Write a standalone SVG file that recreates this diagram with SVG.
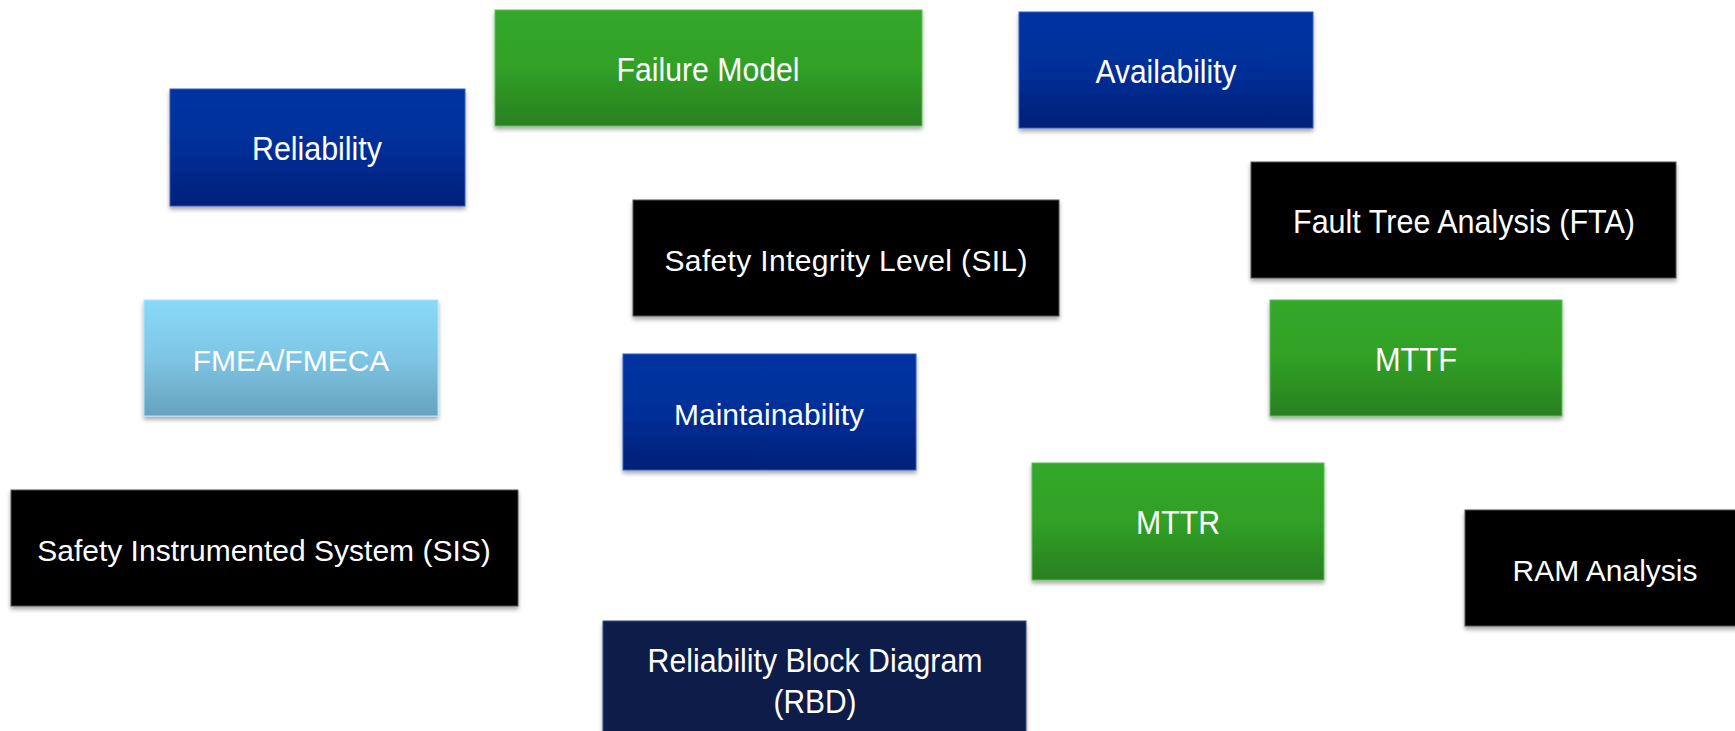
<svg xmlns="http://www.w3.org/2000/svg" width="1735" height="731" viewBox="0 0 1735 731">
  <defs>
    <linearGradient id="gGreen" x1="0" y1="0" x2="0" y2="1">
      <stop offset="0" stop-color="#34a82a"/>
      <stop offset="0.5" stop-color="#30a026"/>
      <stop offset="1" stop-color="#2a7f20"/>
    </linearGradient>
    <linearGradient id="gBlue" x1="0" y1="0" x2="0" y2="1">
      <stop offset="0" stop-color="#0033a3"/>
      <stop offset="0.5" stop-color="#002f98"/>
      <stop offset="1" stop-color="#001f78"/>
    </linearGradient>
    <linearGradient id="gLight" x1="0" y1="0" x2="0" y2="1">
      <stop offset="0" stop-color="#8ad9f8"/>
      <stop offset="0.5" stop-color="#7ec5e4"/>
      <stop offset="1" stop-color="#66a2be"/>
    </linearGradient>
    <filter id="shadow" x="-5%" y="-10%" width="110%" height="130%">
      <feDropShadow dx="0" dy="3" stdDeviation="2" flood-color="#000" flood-opacity="0.35"/>
    </filter>
  </defs>
  <style>
    .box { filter: url(#shadow); }
    .green { fill: url(#gGreen); stroke: #5cbf55; stroke-width: 1; }
    .blue { fill: url(#gBlue); stroke: #3a5cc0; stroke-width: 1; }
    .light { fill: url(#gLight); stroke: #a8e6fc; stroke-width: 1; }
    .black { fill: #000000; stroke: #555555; stroke-width: 1; }
    .navy { fill: #101f4a; stroke: #3a4a75; stroke-width: 1; }
    .lbl { font-family: "Liberation Sans", Arial, sans-serif; font-size: 30px; fill: #ffffff; text-anchor: middle; }
    .nar { font-size: 33px; }
  </style>
  <rect width="1735" height="731" fill="#ffffff"/>
  <g id="connectors"/>
  <g id="failure-model">
    <rect class="box green" x="495" y="10" width="427" height="116"/>
    <text class="lbl nar" x="708" y="81" textLength="183" lengthAdjust="spacingAndGlyphs">Failure Model</text>
  </g>
  <g id="availability">
    <rect class="box blue" x="1019" y="12" width="294" height="116"/>
    <text class="lbl nar" x="1166" y="83" textLength="141" lengthAdjust="spacingAndGlyphs">Availability</text>
  </g>
  <g id="reliability">
    <rect class="box blue" x="170" y="89" width="295" height="117"/>
    <text class="lbl nar" x="317" y="160" textLength="130" lengthAdjust="spacingAndGlyphs">Reliability</text>
  </g>
  <g id="fta">
    <rect class="box black" x="1251" y="162" width="425" height="116"/>
    <text class="lbl nar" x="1464" y="233" textLength="342" lengthAdjust="spacingAndGlyphs">Fault Tree Analysis (FTA)</text>
  </g>
  <g id="sil">
    <rect class="box black" x="633" y="200" width="426" height="116"/>
    <text class="lbl" x="846" y="271" textLength="363" lengthAdjust="spacing">Safety Integrity Level (SIL)</text>
  </g>
  <g id="fmea">
    <rect class="box light" x="144" y="300" width="294" height="116"/>
    <text class="lbl" x="291" y="371">FMEA/FMECA</text>
  </g>
  <g id="mttf">
    <rect class="box green" x="1270" y="300" width="292" height="116"/>
    <text class="lbl nar" x="1416" y="371" textLength="82" lengthAdjust="spacingAndGlyphs">MTTF</text>
  </g>
  <g id="maintainability">
    <rect class="box blue" x="623" y="354" width="293" height="116"/>
    <text class="lbl" x="769" y="425">Maintainability</text>
  </g>
  <g id="mttr">
    <rect class="box green" x="1032" y="463" width="292" height="117"/>
    <text class="lbl nar" x="1178" y="534" textLength="84" lengthAdjust="spacingAndGlyphs">MTTR</text>
  </g>
  <g id="sis">
    <rect class="box black" x="11" y="490" width="507" height="116"/>
    <text class="lbl" x="264" y="561">Safety Instrumented System (SIS)</text>
  </g>
  <g id="ram">
    <rect class="box black" x="1465" y="510" width="290" height="116"/>
    <text class="lbl" x="1605" y="581">RAM Analysis</text>
  </g>
  <g id="rbd">
    <rect class="box navy" x="603" y="621" width="423" height="130"/>
    <text class="lbl nar" x="815" y="672" textLength="335" lengthAdjust="spacingAndGlyphs">Reliability Block Diagram</text>
    <text class="lbl nar" x="815" y="713" textLength="83" lengthAdjust="spacingAndGlyphs">(RBD)</text>
  </g>
</svg>
